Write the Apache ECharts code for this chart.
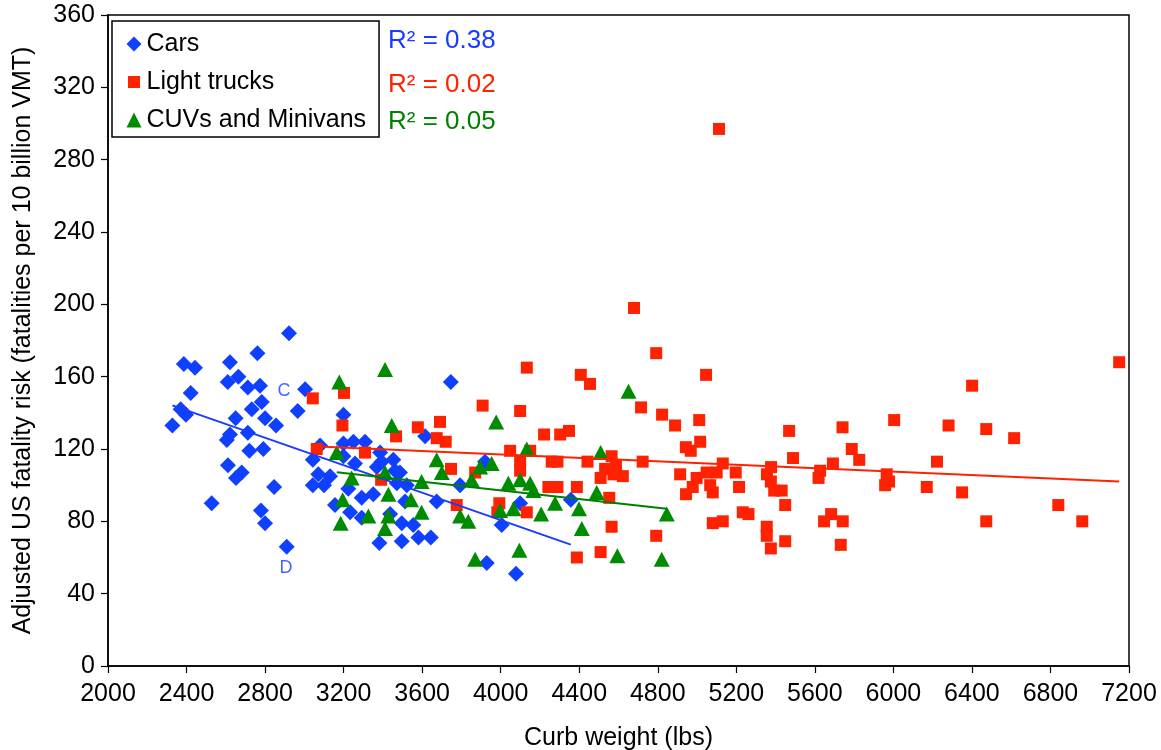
<!DOCTYPE html>
<html><head><meta charset="utf-8">
<script src="https://cdn.jsdelivr.net/npm/echarts/dist/echarts.min.js"></script>
<style>html,body{margin:0;padding:0;background:#fff}#chart{width:1161px;height:750px}</style>
</head><body><div id="chart"></div>
<script>
const seriesNames = ['Cars', 'Light trucks', 'CUVs and Minivans'];
const rSquaredLabels = ['R² = 0.38', 'R² = 0.02', 'R² = 0.05'];
const xAxisTitle = 'Curb weight (lbs)';
const yAxisTitle = 'Adjusted US fatality risk (fatalities per 10 billion VMT)';

// [curb weight (lbs), fatality risk]
const cars = [
  [2922,184],[2386,167],[2443,165],[2621,168],[2761,173],[2610,157],[2664,160],[2712,154],[2774,155],[2421,151],
  [3004,153],[2370,142],[2397,139],[2328,133],[2732,142],[2783,146],[2966,141],[2650,137],[2800,137],[2856,133],
  [2621,128],[2605,125],[2712,129],[2720,119],[2791,120],[2611,111],[2681,107],[2652,104],[2846,99],[2528,90],
  [2779,86],[2800,79],[2910,66],[3199,139],
  [3080,122],[3199,123],[3250,124],[3309,124],[3043,114],[3258,112],[3386,118],[3394,113],[3453,114],[3369,110],
  [3071,106],[3131,105],[3043,100],[3100,100],[3224,98],[3351,95],[3462,108],[3471,101],[3522,100],[3156,89],
  [3233,85],[3292,93],[3292,82],[3437,84],[3496,79],[3382,68],[3496,69],[3615,127],[3920,113],[3487,107],
  [3513,91],[3793,100],[3674,91],[4099,90],[3555,78],[3581,71],[3644,71],[4005,78],[3746,157],[3929,57],
  [4078,51],[4357,92],[3199,116]
];
const lightTrucks = [
  [3043,148],[3202,151],[3194,133],[3063,120],[3309,118],[3391,103],[3467,127],[3578,132],[3691,135],[3674,126],
  [3720,124],[3747,109],[3776,89],[3870,107],[3908,144],[4099,141],[4048,119],[4150,119],[4099,113],[4099,108],
  [4133,165],[4221,128],[4243,99],[3993,90],[3983,85],[4133,85],
  [4679,198],[4792,173],[4408,161],[4455,156],[5046,161],[4715,143],[4822,139],[4888,133],[5011,136],[4303,128],
  [4348,130],[4943,121],[5016,124],[4968,119],[4260,113],[4289,113],[4442,113],[4565,116],[4723,113],[4587,111],
  [4532,109],[4574,106],[4622,105],[4509,104],[4260,99],[4289,99],[4388,99],[4914,106],[4998,104],[5049,107],
  [5100,107],[5131,112],[4978,99],[4944,95],[5067,100],[5080,96],[4553,93],[4565,77],[4792,72],[4388,60],
  [4509,63],[5080,79],[5131,80],
  [5469,130],[5741,132],[6004,136],[6281,133],[5788,120],[5826,114],[5489,115],[5377,110],[5692,112],[5627,108],
  [5619,104],[5966,106],[5978,102],[5958,100],[6222,113],[6170,99],[5197,107],[5356,106],[5376,102],[5214,99],
  [5393,97],[5431,97],[5449,89],[5233,85],[5262,84],[5355,77],[5355,72],[5376,65],[5449,69],[5647,80],
  [5683,84],[5742,80],[5732,67],
  [7150,168],[6401,155],[6473,131],[6615,126],[6350,96],[6473,80],[6840,89],[6962,80],[5112,297]
];
const cuvs = [
  [3411,164],[3178,157],[3445,133],[3977,135],[4133,120],[3165,118],[3674,114],[3700,107],[3954,112],[3895,110],
  [3411,107],[3241,104],[3852,103],[3597,102],[4039,101],[4099,103],[4167,97],[4150,101],[3428,95],[3195,92],
  [3543,92],[3597,85],[3997,86],[4065,87],[4206,84],[3326,83],[3428,83],[3793,83],[3835,80],[3185,79],
  [3411,76],[4095,64],[3870,59],
  [4651,152],[4509,118],[4277,90],[4399,87],[4489,96],[4413,76],[4846,84],[4594,61],[4820,59]
];
const pointLabels = [
  {name: 'C', value: [2897, 152]},
  {name: 'D', value: [2907, 54]}
];

const FONT = '"Liberation Sans", Arial, sans-serif';
const colors = ['#1040ff', '#ff2200', '#008c00'];
const lineColors = ['#1a3cff', '#ff2200', '#008000'];

function trend(pts) {
  const n = pts.length;
  let mx = 0, my = 0;
  pts.forEach(p => { mx += p[0]; my += p[1]; });
  mx /= n; my /= n;
  let sxy = 0, sxx = 0;
  pts.forEach(p => { sxy += (p[0]-mx)*(p[1]-my); sxx += (p[0]-mx)*(p[0]-mx); });
  const b = sxy / sxx, a = my - b*mx;
  const xs = pts.map(p => p[0]);
  const x0 = Math.min(...xs), x1 = Math.max(...xs);
  return [[x0, a + b*x0], [x1, a + b*x1]];
}

const chart = echarts.init(document.getElementById('chart'), null, {renderer: 'canvas'});
const datasets = [cars, lightTrucks, cuvs];
const symbols = ['diamond', 'rect', 'triangle'];
const sizes = [16, 12, [16, 15]];

const series = [];
datasets.forEach((d, i) => {
  series.push({
    name: seriesNames[i], type: 'scatter', data: d,
    symbol: symbols[i], symbolSize: sizes[i],
    itemStyle: {color: colors[i], opacity: 1},
    z: 2 + i, animation: false
  });
});
datasets.forEach((d, i) => {
  series.push({
    name: seriesNames[i] + ' trend', type: 'line', data: trend(d),
    symbol: 'none', lineStyle: {color: lineColors[i], width: 2},
    z: 6, animation: false, silent: true
  });
});
series.push({
  name: 'labels', type: 'scatter', data: pointLabels, symbolSize: 0,
  label: {show: true, position: 'inside', formatter: '{b}', color: '#1a3cff', fontSize: 18, fontFamily: FONT},
  z: 7, animation: false, silent: true
});

chart.setOption({
  animation: false,
  backgroundColor: '#fff',
  grid: {left: 108, right: 32, top: 15, bottom: 84, show: true, borderColor: '#000', borderWidth: 1.5,
         containLabel: false, outerBoundsMode: 'none'},
  xAxis: {
    type: 'value', min: 2000, max: 7200, interval: 400,
    name: xAxisTitle, nameLocation: 'middle', nameGap: 60,
    nameTextStyle: {fontSize: 25, fontFamily: FONT, color: '#000'},
    axisLine: {show: true, lineStyle: {color: '#000', width: 1.5}},
    axisTick: {show: true, inside: false, length: 7, lineStyle: {color: '#000', width: 1.2}},
    axisLabel: {fontSize: 25, fontFamily: FONT, color: '#000', margin: 16, formatter: v => String(v)},
    splitLine: {show: false}
  },
  yAxis: {
    type: 'value', min: 0, max: 360, interval: 40,
    name: yAxisTitle, nameLocation: 'middle', nameGap: 72, nameRotate: 90,
    nameTextStyle: {fontSize: 25, fontFamily: FONT, color: '#000'},
    axisLine: {show: true, lineStyle: {color: '#000', width: 1.5}},
    axisTick: {show: true, inside: false, length: 7, lineStyle: {color: '#000', width: 1.2}},
    axisLabel: {fontSize: 25, fontFamily: FONT, color: '#000', margin: 13, formatter: v => String(v)},
    splitLine: {show: false}
  },
  legend: {
    left: 112, top: 21, orient: 'vertical',
    backgroundColor: '#fff', borderColor: '#000', borderWidth: 1.5, borderRadius: 0,
    padding: [9, 13, 3, 13], itemGap: 10, itemWidth: 15, itemHeight: 15,
    textStyle: {fontSize: 25, fontFamily: FONT, color: '#000', lineHeight: 28},
    data: [
      {name: seriesNames[0], icon: 'diamond'},
      {name: seriesNames[1], icon: 'rect', itemStyle: {borderColor: '#fff', borderWidth: 3}},
      {name: seriesNames[2], icon: 'triangle'}
    ]
  },
  graphic: rSquaredLabels.map((t, i) => ({
    type: 'text', left: 388, top: [28, 72, 109][i],
    style: {text: t, fill: lineColors[i], font: '26px ' + FONT}
  })),
  series: series
});
</script>
</body></html>
